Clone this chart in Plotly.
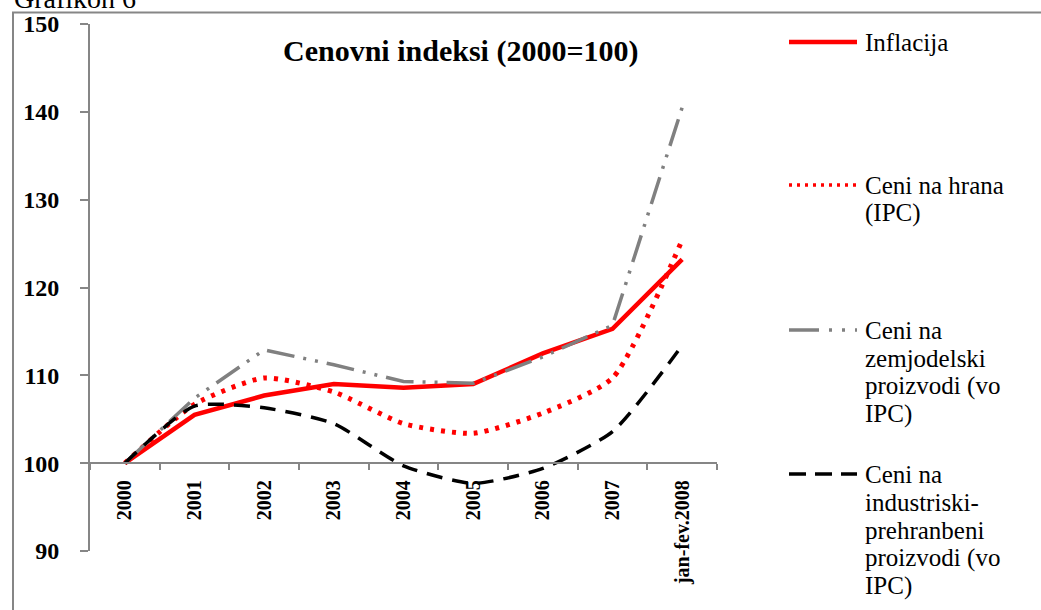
import plotly.graph_objects as go

# ---- data ----
categories = ["2000", "2001", "2002", "2003", "2004", "2005", "2006", "2007", "jan-fev.2008"]
inflacija = [100.0, 105.5, 107.7, 109.0, 108.6, 109.0, 112.5, 115.3, 123.2]
hrana = [100.0, 106.7, 109.7, 108.1, 104.5, 103.4, 105.7, 109.7, 125.4]
zemjodelski = [100.0, 107.4, 112.9, 111.2, 109.3, 109.1, 112.1, 115.7, 140.5]
industriski = [100.0, 106.5, 106.3, 104.5, 99.7, 97.7, 99.4, 103.6, 113.4]
y_ticks = [90, 100, 110, 120, 130, 140, 150]

W, H = 1041, 610
def px(x):
    return x / W
def py(y):
    return 1 - y / H

FONT = "Liberation Serif"
GRID = "#868686"

x_dom = [px(90), px(717)]
y_dom = [py(551), py(24)]
y_range = [90, 150]
x_axis_pos = y_dom[0] + (100 - y_range[0]) / (y_range[1] - y_range[0]) * (y_dom[1] - y_dom[0])

fig = go.Figure()
fig.add_trace(go.Scatter(x=categories, y=inflacija, mode="lines", name="Inflacija",
                         line=dict(color="#FF0000", width=4.5)))
fig.add_trace(go.Scatter(x=categories, y=hrana, mode="lines", name="Ceni na hrana (IPC)",
                         line=dict(color="#FF0000", width=5, dash="4px,7px", shape="spline", smoothing=0.6)))
fig.add_trace(go.Scatter(x=categories, y=zemjodelski, mode="lines", name="Ceni na zemjodelski proizvodi (vo IPC)",
                         line=dict(color="#808080", width=3.5, dash="28px,9px,3px,9px,3px,9px")))
fig.add_trace(go.Scatter(x=categories, y=industriski, mode="lines", name="Ceni na industriski-prehranbeni proizvodi (vo IPC)",
                         line=dict(color="#000000", width=3.5, dash="16px,10px", shape="spline", smoothing=0.6)))

fig.update_layout(
    width=W, height=H,
    margin=dict(l=0, r=0, t=0, b=0, autoexpand=False),
    paper_bgcolor="white", plot_bgcolor="white",
    showlegend=False,
    font=dict(family=FONT, color="black"),
    xaxis=dict(domain=x_dom, anchor="free", position=x_axis_pos,
               type="category", range=[-0.5, 8.5], automargin=False,
               showline=True, linecolor=GRID, linewidth=2,
               ticks="outside", tickson="boundaries", ticklen=6, tickcolor=GRID, tickwidth=2,
               tickangle=-90, ticklabelstandoff=8,
               tickfont=dict(family=FONT, size=20, weight="bold", color="black"),
               showgrid=False, zeroline=False),
    yaxis=dict(domain=y_dom, range=y_range, tickvals=y_ticks, automargin=False,
               showline=True, linecolor=GRID, linewidth=2,
               ticks="outside", ticklen=8, tickcolor=GRID, tickwidth=2,
               ticklabelstandoff=16,
               tickfont=dict(family=FONT, size=24, weight="bold", color="black"),
               showgrid=False, zeroline=False),
)

# outer border (clipped at right/bottom like the reference)
fig.add_shape(type="rect", xref="paper", yref="paper", x0=px(13), x1=px(1060), y0=py(640), y1=py(12.5),
              line=dict(color=GRID, width=2), fillcolor="rgba(0,0,0,0)", layer="below")

# cropped heading at top
fig.add_annotation(text="Grafikon 6", xref="paper", yref="paper", x=px(12), y=py(16),
                   xanchor="left", yanchor="bottom", showarrow=False,
                   font=dict(family=FONT, size=28, color="black"))

# title
fig.add_annotation(text="<b>Cenovni indeksi (2000=100)</b>", xref="paper", yref="paper",
                   x=px(460), y=py(51), xanchor="center", yanchor="middle", showarrow=False,
                   font=dict(family=FONT, size=30, color="black"))

# manual legend
legend_items = [
    (["Inflacija"], 42, dict(color="#FF0000", width=4.5, dash="solid")),
    (["Ceni na hrana", "(IPC)"], 185, dict(color="#FF0000", width=3.5, dash="3px,5px")),
    (["Ceni na", "zemjodelski", "proizvodi (vo", "IPC)"], 330, dict(color="#808080", width=3.5, dash="30px,10px,3px,10px,3px,10px")),
    (["Ceni na", "industriski-", "prehranbeni", "proizvodi (vo", "IPC)"], 474, dict(color="#000000", width=3.5, dash="17px,9px")),
]
line_gap = 28
for lines, y0, ls in legend_items:
    fig.add_shape(type="line", xref="paper", yref="paper", x0=px(789), x1=px(857), y0=py(y0), y1=py(y0),
                  line=ls)
    for i, t in enumerate(lines):
        fig.add_annotation(text=t, xref="paper", yref="paper", x=px(863), y=py(y0 + i * line_gap),
                           xanchor="left", yanchor="middle", showarrow=False,
                           font=dict(family=FONT, size=25, color="black"))

fig.write_html("out.html", config={"displayModeBar": False},
               post_script="document.body.style.margin='0';")
